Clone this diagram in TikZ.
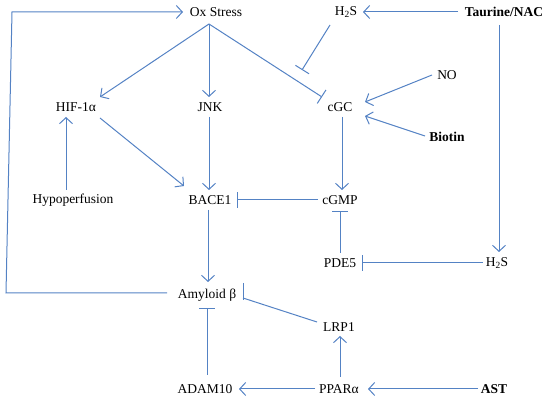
\documentclass[tikz,border=0pt]{standalone}
\usepackage{fontspec}
\setmainfont{Liberation Serif}
\usetikzlibrary{arrows.meta,calc}
\definecolor{lnk}{RGB}{84,130,196}
\tikzset{
  lab/.style={inner sep=0pt,font=\fontsize{13.5}{15}\selectfont},
  bld/.style={lab,font=\fontsize{13.5}{15}\selectfont\bfseries},
  act/.style={draw=lnk,line width=1pt,-{Straight Barb[length=6pt,width=13pt,line width=1pt]}},
  inh/.style={draw=lnk,line width=1pt,-{Bar[width=16pt,line width=1pt]}},
  plain/.style={draw=lnk,line width=1pt},
}
\begin{document}
\begin{tikzpicture}[x=1pt,y=-1pt]
\useasboundingbox (0,0) rectangle (550,403);
\node[lab] (ox) at (216,12) {Ox Stress};
\node[lab] (h2sa) at (346,12) {H\textsubscript{2}S};
\node[bld] (tau) at (504,12) {Taurine/NAC};
\node[lab] (hif) at (76,107) {HIF-1α};
\node[lab] (jnk) at (210,107) {JNK};
\node[lab] (cgc) at (340,107) {cGC};
\node[lab] (no) at (447,75) {NO};
\node[bld] (bio) at (447,137) {Biotin};
\node[lab] (hypo) at (73,200) {Hypoperfusion};
\node[lab] (bace) at (210,200) {BACE1};
\node[lab] (cgmp) at (340,200) {cGMP};
\node[lab] (pde) at (340,263) {PDE5};
\node[lab] (h2sb) at (497,263) {H\textsubscript{2}S};
\node[lab] (amy) at (207,295) {Amyloid β};
\node[lab] (lrp) at (339,327) {LRP1};
\node[lab] (adam) at (205,389) {ADAM10};
\node[lab] (ppar) at (339,389) {PPARα};
\node[bld] (ast) at (494,389) {AST};
\coordinate (oxs) at ($(ox)+(-7,12)$);
\coordinate (h2sbar) at (302,70);
\coordinate (loopb) at (6,293);
\coordinate (loopt) at (12,12);
% feedback loop
\draw[act] ($(amy)+(-40,-2)$) -- (loopb) -- (loopt) -- ($(ox)+(-33,0)$);
% from Ox Stress
\draw[act] (oxs) -- ($(hif)+(24,-10)$);
\draw[act] (oxs) -- ($(jnk)+(-1,-10)$);
\draw[inh] (oxs) -- ($(cgc)+(-18,-10)$);
\draw[act] ($(tau)+(-46,0)$) -- ($(h2sa)+(17,0)$);
\draw[inh] ($(h2sa)+(-16,13)$) -- (h2sbar);
\draw[act] ($(no)+(-15,0)$) -- ($(cgc)+(25,-5)$);
\draw[act] ($(bio)+(-22,-1)$) -- ($(cgc)+(25,9)$);
\draw[act] ($(hif)+(24,11)$) -- ($(bace)+(-26,-14)$);
\draw[act] ($(jnk)+(-1,10)$) -- ($(bace)+(-1,-10)$);
\draw[act] ($(hypo)+(-7,-10)$) -- ($(hif)+(-10,10)$);
\draw[act] ($(cgc)+(2,10)$) -- ($(cgmp)+(2,-10)$);
\draw[inh] ($(cgmp)+(-22,0)$) -- ($(bace)+(27,0)$);
\draw[inh] ($(pde)+(0,-10)$) -- ($(cgmp)+(0,11)$);
\draw[act] ($(tau)+(-5,13)$) -- ($(h2sb)+(2,-11)$);
\draw[inh] ($(h2sb)+(-14,0)$) -- ($(pde)+(22,0)$);
\draw[act] ($(bace)+(-2,10)$) -- ($(amy)+(1,-13)$);
\draw[plain] ($(lrp)+(-22,-5)$) -- ($(amy)+(36,3)$);
\draw[plain] ($(amy)+(36,-12)$) -- ($(amy)+(36,5)$);
\draw[inh] ($(adam)+(2,-14)$) -- ($(amy)+(0,13)$);
\draw[act] ($(ppar)+(-24,0)$) -- ($(adam)+(34,0)$);
\draw[act] ($(ppar)+(1,-12)$) -- ($(lrp)+(1,9)$);
\draw[act] ($(ast)+(-16,0)$) -- ($(ppar)+(29,0)$);
\end{tikzpicture}
\end{document}
